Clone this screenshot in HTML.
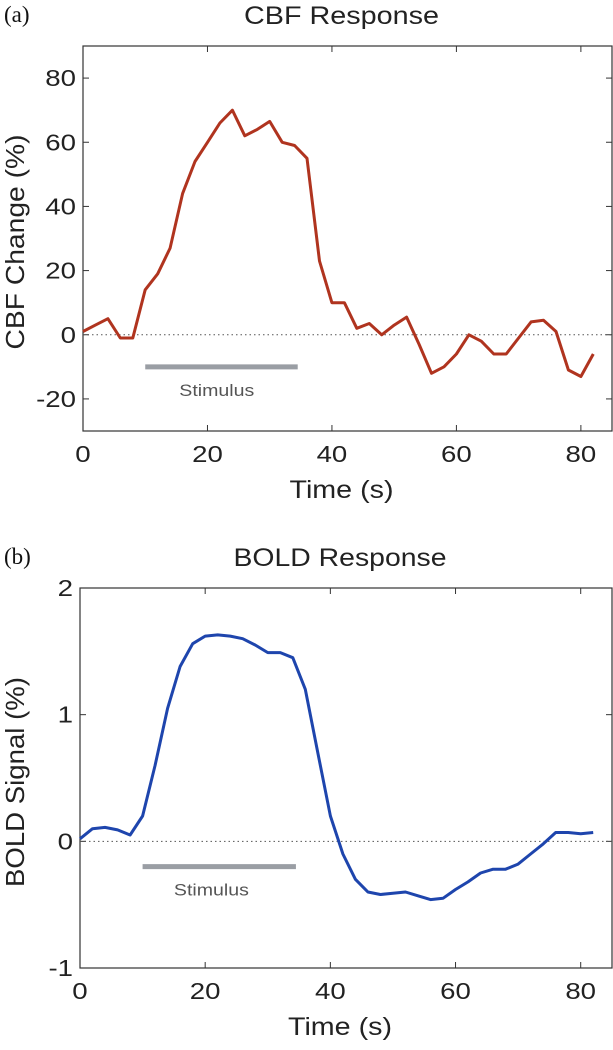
<!DOCTYPE html>
<html><head><meta charset="utf-8"><style>
body{margin:0;background:#fff;}
svg{display:block;font-family:"Liberation Sans",sans-serif;}
</style></head><body>
<svg id="fig" width="613" height="1050"></svg>
<script>
const cbfTimes=[0,2,4,6,8,10,12,14,16,18,20,22,24,26,28,30,32,34,36,38,40,42,44,46,48,50,52,54,56,58,60,62,64,66,68,70,72,74,76,78,80,82];
const cbfValues=[1,3,5,-1,-1,14,19,27,44,54,60,66,70,62,64,66.5,60,59,55,23,10,10,2,3.5,0,3,5.5,-3,-12,-10,-6,0,-2,-6,-6,-1,4,4.5,1,-11,-13,-6];
const boldTimes=cbfTimes;
const boldValues=[0.02,0.1,0.11,0.09,0.05,0.2,0.6,1.05,1.38,1.56,1.62,1.63,1.62,1.6,1.55,1.49,1.49,1.45,1.2,0.7,0.2,-0.1,-0.3,-0.4,-0.42,-0.41,-0.4,-0.43,-0.46,-0.45,-0.38,-0.32,-0.25,-0.22,-0.22,-0.18,-0.1,-0.02,0.07,0.07,0.06,0.07];
const xTicks=[0,20,40,60,80];
const cbfYTicks=[-20,0,20,40,60,80];
const boldYTicks=[-1,0,1,2];
const stimulus=[10,34.5];

const NS="http://www.w3.org/2000/svg";
const svg=document.getElementById('fig');
function el(tag,attrs,parent,text){const e=document.createElementNS(NS,tag);for(const k in attrs)e.setAttribute(k,attrs[k]);if(text!==undefined)e.textContent=text;(parent||svg).appendChild(e);return e;}
function stretch(t,f){const w=t.getComputedTextLength();t.setAttribute('textLength',(w*f).toFixed(1));t.setAttribute('lengthAdjust','spacingAndGlyphs');}
function fit(t,w){t.setAttribute('textLength',w);t.setAttribute('lengthAdjust','spacingAndGlyphs');}

function panel(o){
  const g=el('g',{});
  
  
  const xs=v=>o.L+(v-0)/(85-0)*(o.R-o.L);
  const ys=v=>o.B-(v-o.ymin)/(o.ymax-o.ymin)*(o.B-o.T);
  const lab=el('text',{x:4,y:o.T-24,'font-family':'Liberation Serif,serif','font-size':23,fill:'#111'},g,o.letter);
  
  const t=el('text',{x:(o.L+o.R)/2-6,y:o.T-22,'text-anchor':'middle','font-size':25,fill:'#222'},g,o.title);
  
  fit(t,o.titleW);
  const box=el('rect',{x:o.L,y:o.T,width:o.R-o.L,height:o.B-o.T,fill:'none',stroke:'#333','stroke-width':1.2},g);
  
  xTicks.forEach(v=>{
    el('line',{x1:xs(v),x2:xs(v),y1:o.B,y2:o.B-6,stroke:'#333'},g);
    el('line',{x1:xs(v),x2:xs(v),y1:o.T,y2:o.T+6,stroke:'#333'},g);
    const tl=el('text',{x:xs(v),y:o.B+31,'text-anchor':'middle','font-size':23,fill:'#222'},g,String(v));
    
    stretch(tl,1.2);
  });
  o.yTicks.forEach(v=>{
    el('line',{x1:o.L,x2:o.L+6,y1:ys(v),y2:ys(v),stroke:'#333'},g);
    el('line',{x1:o.R,x2:o.R-6,y1:ys(v),y2:ys(v),stroke:'#333'},g);
    const tl=el('text',{x:o.L-7,y:ys(v)+8,'text-anchor':'end','font-size':23,fill:'#222'},g,String(v));
    
    stretch(tl,1.2);
  });
  const xt=el('text',{x:(o.L+o.R)/2-6,y:o.B+67,'text-anchor':'middle','font-size':25,fill:'#222'},g,'Time (s)');
  
  fit(xt,104);
  const cy=o.ylabelC;
  const yt=el('text',{x:0,y:0,transform:`translate(24,${cy}) rotate(-90)`,'text-anchor':'middle','font-size':26,fill:'#222'},g,o.ylabel);
  
  fit(yt,o.ylabelW);
  const zl=el('line',{x1:o.L,x2:o.R,y1:ys(0),y2:ys(0),stroke:'#555','stroke-width':1,'stroke-dasharray':'1.5,3'},g);
  
  const sb=el('line',{x1:xs(stimulus[0]),x2:xs(stimulus[1]),y1:ys(o.stimY),y2:ys(o.stimY),stroke:'#9a9ea4','stroke-width':5},g);
  
  const st=el('text',{x:xs(o.stimTextX),y:ys(o.stimY)+29,'text-anchor':'middle','font-size':17,fill:'#555'},g,'Stimulus');
  
  fit(st,75);
  const pts=o.times.map((t,i)=>xs(t).toFixed(1)+','+ys(o.values[i]).toFixed(1)).join(' ');
  const pl=el('polyline',{points:pts,fill:'none',stroke:o.color,'stroke-width':3,'stroke-linejoin':'round'},g);
  
}
panel({name:'cbf-chart',letter:'(a)',title:'CBF Response',titleW:195,ylabel:'CBF Change (%)',ylabelW:215,ylabelC:242,L:83,R:612,T:46,B:431,ymin:-30,ymax:90,yTicks:cbfYTicks,times:cbfTimes,values:cbfValues,color:'#b0341f',stimY:-10,stimTextX:21.5,seriesName:'cbf-line'});
panel({name:'bold-chart',letter:'(b)',title:'BOLD Response',titleW:213,ylabel:'BOLD Signal (%)',ylabelW:210,ylabelC:782,L:80,R:612,T:588,B:968,ymin:-1,ymax:2,yTicks:boldYTicks,times:boldTimes,values:boldValues,color:'#1e45ad',stimY:-0.2,stimTextX:21,seriesName:'bold-line'});
</script>
</body></html>
